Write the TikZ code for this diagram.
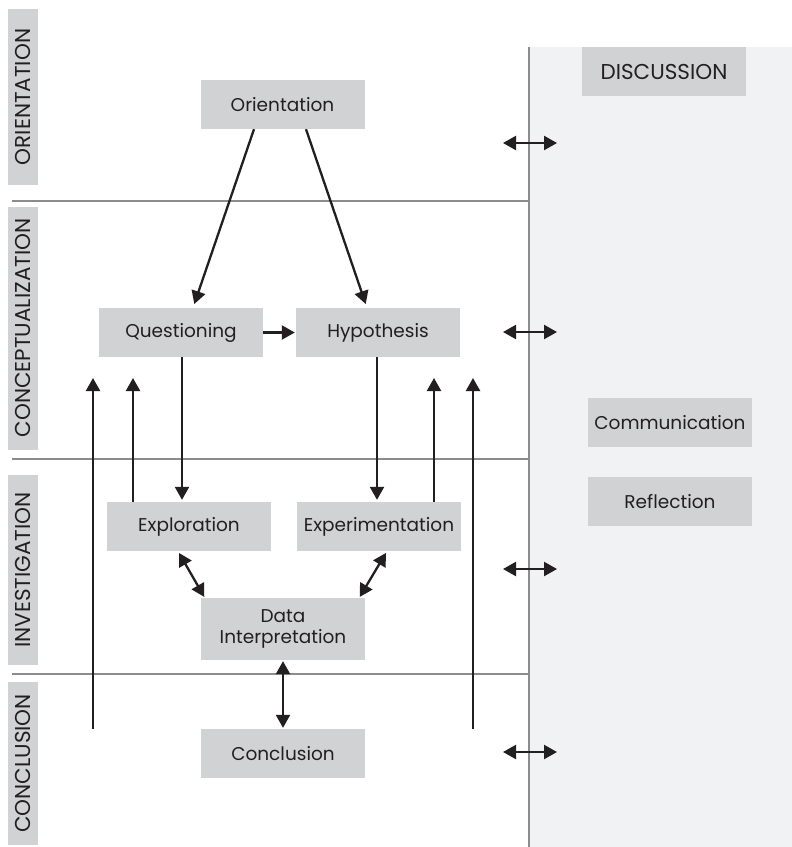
\documentclass[tikz,border=0pt]{standalone}
\usepackage{fontspec}
\setmainfont{Poppins}
\usetikzlibrary{arrows.meta}
\definecolor{boxgrey}{HTML}{D1D2D4}
\definecolor{panelgrey}{HTML}{F1F2F4}
\definecolor{linegrey}{HTML}{8C8C8C}
\definecolor{ink}{HTML}{231F20}
\tikzset{
  stage/.style={fill=boxgrey, text=ink, minimum width=164pt, minimum height=49pt,
    inner sep=0pt, align=center, font=\fontsize{18.5}{21}\selectfont},
  caps/.style={font=\fontsize{21.5}{24}\selectfont},
  phase/.style={fill=boxgrey, text=ink, rotate=90, minimum height=30pt,
    inner sep=0pt, caps},
  flow/.style={draw=ink, line width=2.3pt, -{Triangle[width=14pt,length=13pt]}},
  both/.style={flow, {Triangle[width=14pt,length=13pt]}-{Triangle[width=14pt,length=13pt]}},
  divider/.style={draw=linegrey, line width=1.8pt}
}
\begin{document}
\begin{tikzpicture}[x=1pt,y=-1pt]
  \useasboundingbox (0,0) rectangle (792,847);
  % discussion panel and phase lines
  \fill[panelgrey] (529,47) rectangle (792,847);
  \draw[divider] (529,47) -- (529,847);
  \foreach \y in {201,459,674}{
    \draw[divider] (12,\y) -- (529,\y);
  }

  % phases
  \node[phase, minimum width=176pt] (orient) at (23,97) {ORIENTATION};
  \node[phase, minimum width=243pt] (concept) at (23,328) {CONCEPTUALIZATION};
  \node[phase, minimum width=190pt] (invest) at (23,570) {INVESTIGATION};
  \node[phase, minimum width=163pt] (concl) at (23,763.5) {CONCLUSION};

  % stages
  \node[stage] (orientation) at (282.5,104.5) {Orientation};
  \node[stage, caps] (discussion) at (664,71.5) {DISCUSSION};
  \node[stage] (questioning) at (181,332.5) {Questioning};
  \node[stage] (hypothesis) at (378,332.5) {Hypothesis};
  \node[stage] (exploration) at (189,526.5) {Exploration};
  \node[stage] (experimentation) at (379,526.5) {Experimentation};
  \node[stage, minimum height=62pt] (data) at (283,629) {Data\\Interpretation};
  \node[stage] (conclusion) at (283,753.5) {Conclusion};
  \node[stage] (communication) at (670,422.5) {Communication};
  \node[stage] (reflection) at (670,501.5) {Reflection};

  % free ends
  \coordinate (lowL) at (93,729);
  \coordinate (topL) at (93,378);
  \coordinate (topQ) at (133,378);
  \coordinate (topH) at (434,378);
  \coordinate (lowR) at (473,729);
  \coordinate (topR) at (473,378);

  \draw[flow, shorten >=4pt] ([xshift=-28.5pt]orientation.south) -- ([xshift=12pt]questioning.north);
  \draw[flow, shorten >=4pt] ([xshift=23.5pt]orientation.south) -- ([xshift=-11pt]hypothesis.north);
  \draw[flow, shorten >=1pt] (questioning) -- (hypothesis);
  \draw[flow, shorten >=2pt] ([xshift=1pt]questioning.south) -- ([xshift=-7pt]exploration.north);
  \draw[flow, shorten >=2pt] ([xshift=-1pt]hypothesis.south) -- ([xshift=-2pt]experimentation.north);
  \draw[flow] ([xshift=-56pt]exploration.north) -- (topQ);
  \draw[flow] ([xshift=55pt]experimentation.north) -- (topH);
  \draw[flow] (lowL) -- (topL);
  \draw[flow] (lowR) -- (topR);
  \draw[both, shorten <=2pt, shorten >=1pt] ([xshift=-11pt]exploration.south) -- ([xshift=4pt]data.north west);
  \draw[both, shorten <=2pt, shorten >=1pt] ([xshift=8pt]experimentation.south) -- ([xshift=-6pt]data.north east);
  \draw[both, shorten <=1pt, shorten >=1pt] (data) -- (conclusion);

  % links to discussion
  \foreach \y [count=\i] in {143,332,569,752}{
    \coordinate (dl\i) at (503,\y);
    \coordinate (dr\i) at (557,\y);
    \draw[both] (dl\i) -- (dr\i);
  }
\end{tikzpicture}
\end{document}
